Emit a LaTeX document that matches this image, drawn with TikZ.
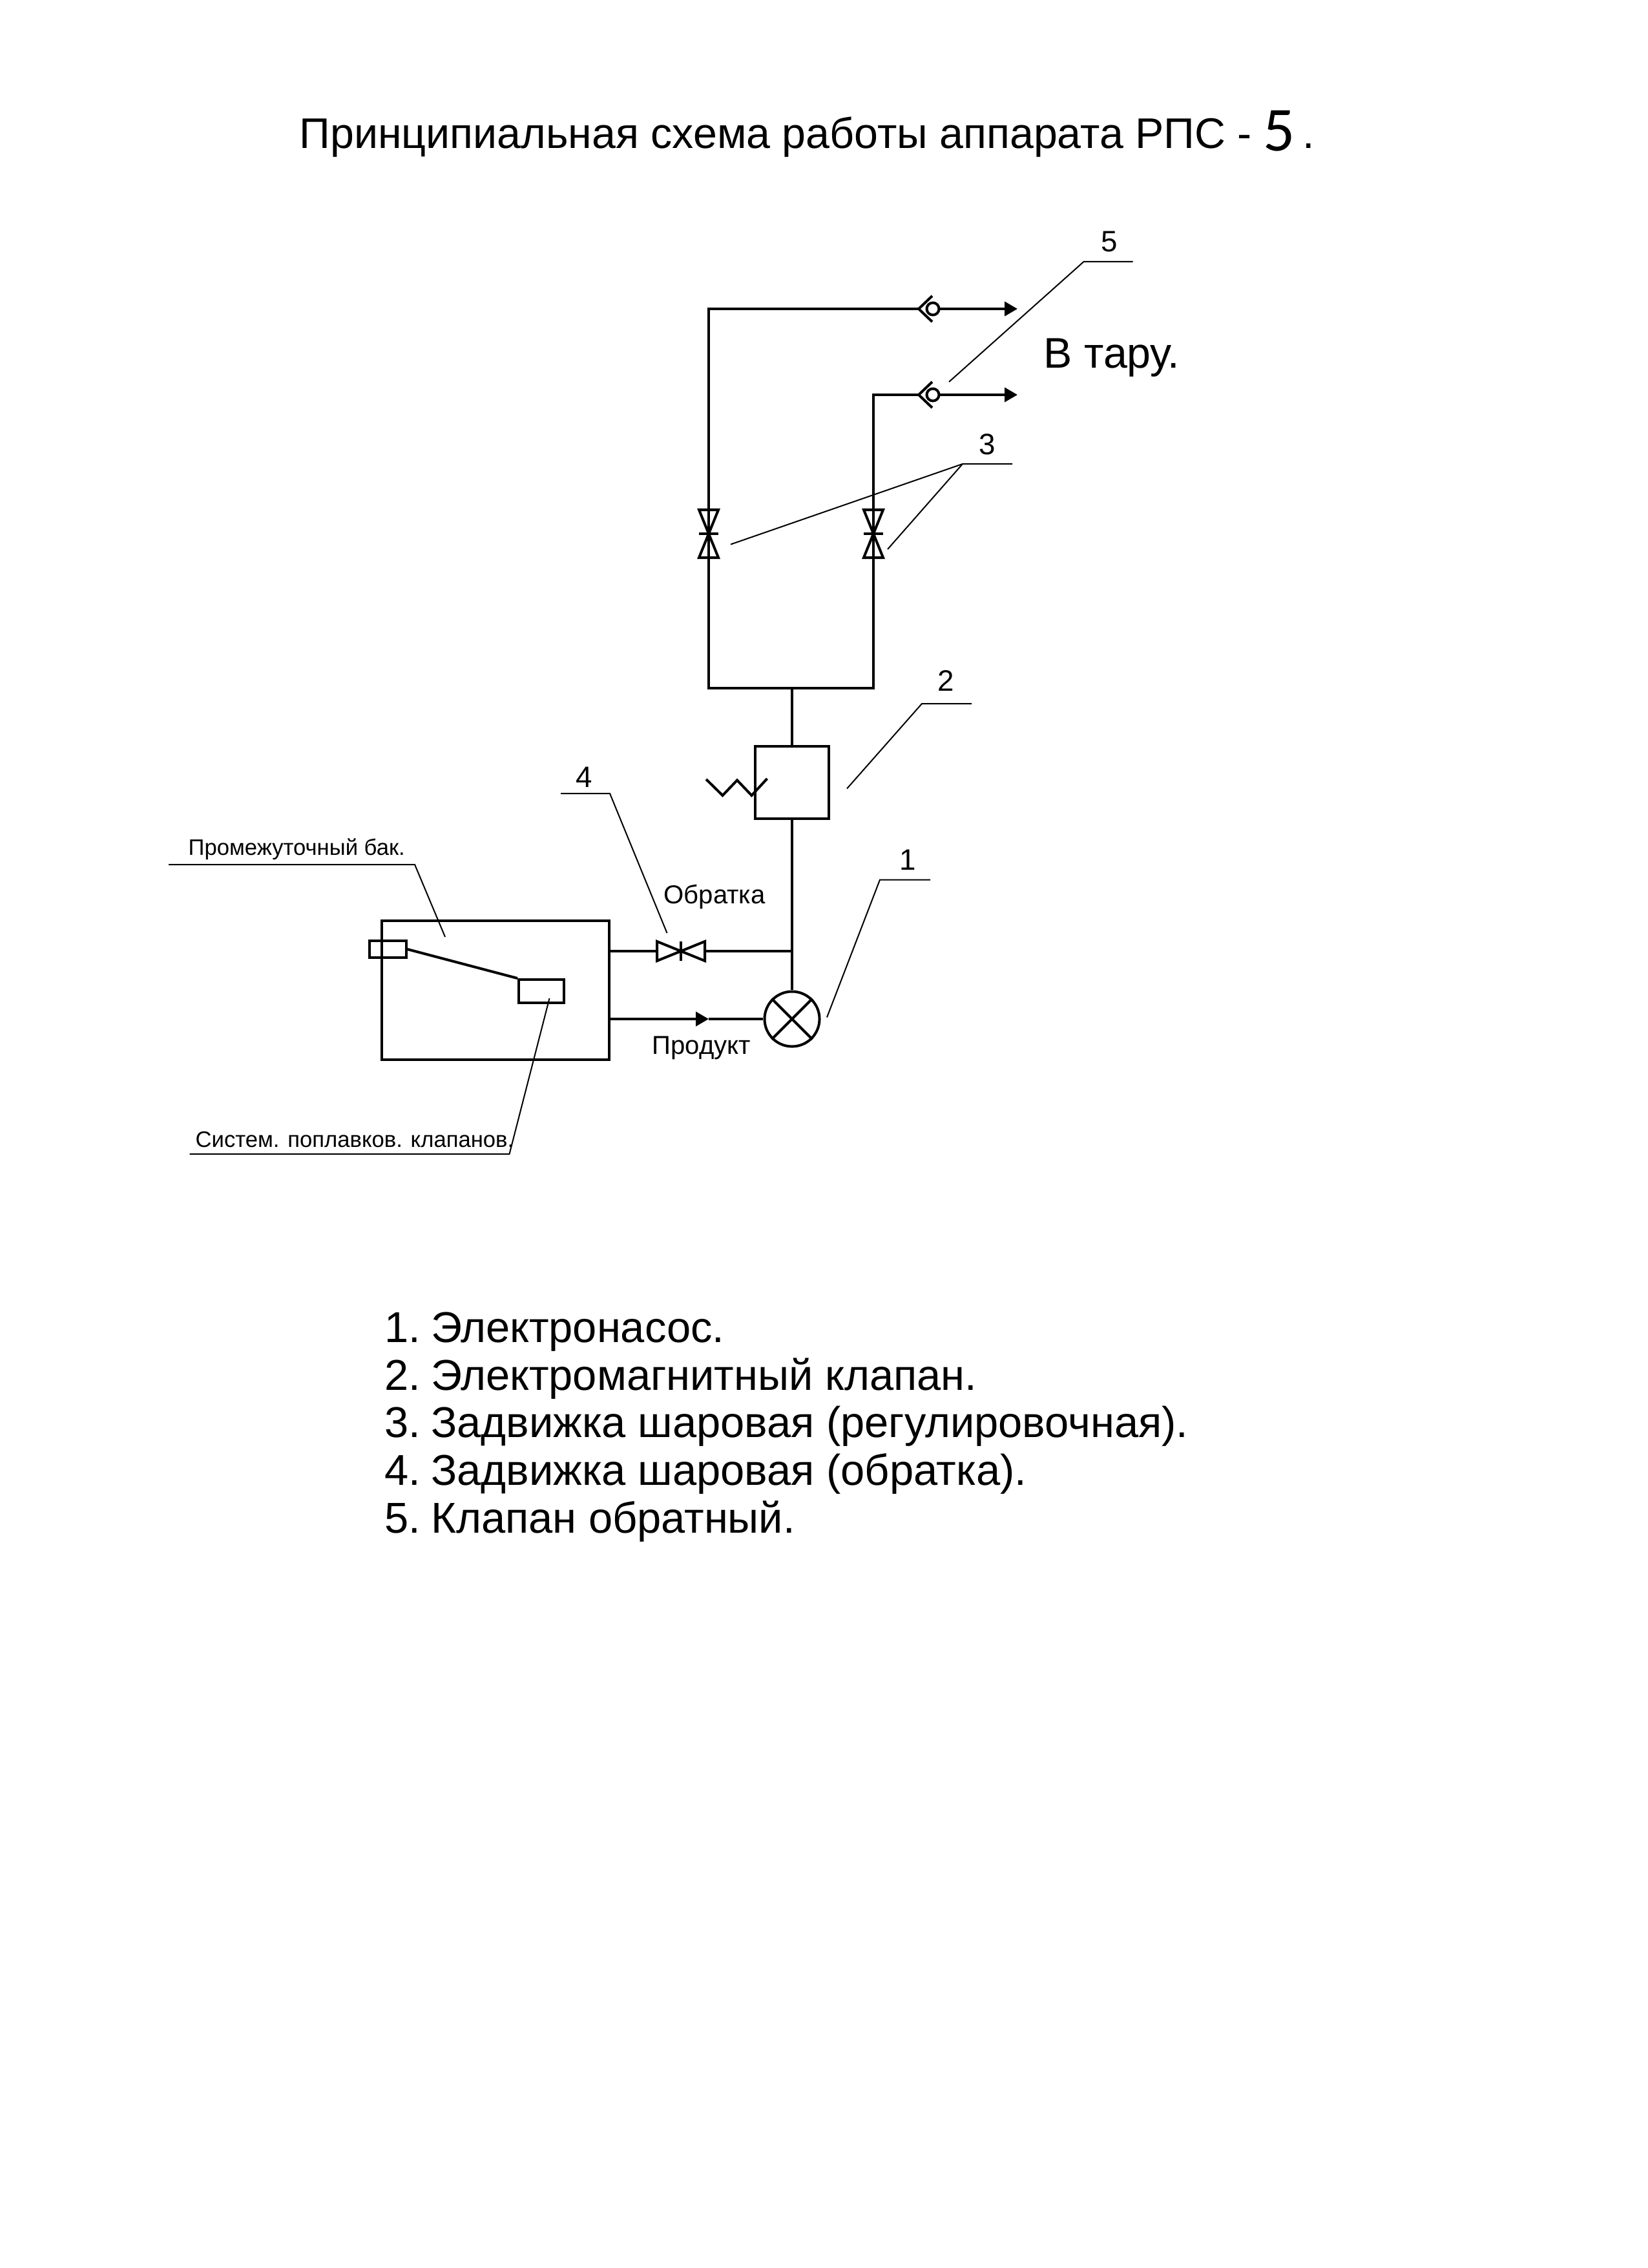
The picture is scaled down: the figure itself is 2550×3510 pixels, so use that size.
\documentclass[tikz,border=0pt]{standalone}
\usepackage{fontspec}
\setmainfont{Liberation Sans}
\newfontfamily\digitfont{Carlito}
\usetikzlibrary{arrows.meta}
\tikzset{
  pipe/.style={line width=0.04cm},
  leader/.style={line width=0.02cm},
  unit/.style={draw,line width=0.04cm,inner sep=0,fill=white},
  flowtip/.style={-{Triangle[length=0.2cm,width=0.22cm]}},
  big/.style={anchor=base west,inner sep=0,font=\fontsize{18.85pt}{20pt}\selectfont},
  listitem/.style={anchor=base west,inner sep=0,font=\fontsize{19pt}{20pt}\selectfont},
  num/.style={inner sep=0,font=\fontsize{13pt}{15pt}\selectfont},
  small/.style={anchor=base west,inner sep=0,font=\fontsize{11.4pt}{12pt}\selectfont},
  tiny/.style={anchor=base west,inner sep=0,font=\fontsize{9.85pt}{11pt}\selectfont},
  gate/.pic={
    \draw[pipe] (-37,-15)--(-37,15)--(37,-15)--(37,15)--cycle;
    \draw[pipe] (0,-15)--(0,15);
    \coordinate (-a) at (-37,0);
    \coordinate (-b) at (37,0);
  },
  check/.pic={
    \draw[pipe] (-1,-20)--(-22,0)--(-1,20);
    \draw[pipe] (0,0) circle (0.095cm);
    \coordinate (-a) at (-22,0);
    \coordinate (-b) at (9.5,0);
  },
}
\begin{document}
\begin{tikzpicture}[x=0.01cm,y=-0.01cm]
  \useasboundingbox (0,0) rectangle (2550,3510);
  \fill[white] (0,0) rectangle (2550,3510);
  % title and list
  \node[big] (title) at (463,230) {Принципиальная схема работы аппарата РПС - {\digitfont\fontsize{27.6pt}{30pt}\selectfont\raisebox{-0.04cm}{5}}\hspace{3.2pt}.};
  \node[listitem] (item1) at (595,2077) {1.\hspace{4.5pt}Электронасос.};
  \node[listitem] (item2) at (595,2151) {2.\hspace{4.5pt}Электромагнитный клапан.};
  \node[listitem] (item3) at (595,2224) {3.\hspace{4.5pt}Задвижка шаровая (регулировочная).};
  \node[listitem] (item4) at (595,2298) {4.\hspace{4.5pt}Задвижка шаровая (обратка).};
  \node[listitem] (item5) at (595,2372) {5.\hspace{4.5pt}Клапан обратный.};
  \node[big] (tara) at (1615,570) {В тару.};
  % units
  \node[unit,minimum width=3.52cm,minimum height=2.15cm] (tank) at (767,1532.5) {};
  \node[unit,fill=none,minimum width=0.56cm,minimum height=0.26cm] (seat) at (600.5,1469) {};
  \node[unit,minimum width=0.70cm,minimum height=0.36cm] (float) at (838,1534) {};
  \draw[pipe] (seat.east)--(float.north west);
  \node[unit,minimum width=1.13cm,minimum height=1.12cm] (coil) at (1226,1211) {};
  \node[unit,circle,minimum size=0.85cm] (pump) at (1226,1577) {};
  \draw[pipe] (pump.north west)--(pump.south east);
  \draw[pipe] (pump.north east)--(pump.south west);
  \draw[pipe] (1093,1206)--(1118.5,1231)--(1141,1207.5)--(1163.5,1231)--(1187.5,1205);
  % fittings
  \pic (gatea) at (1054,1472) {gate};
  \pic[rotate=90] (gateb) at (1097,826) {gate};
  \pic[rotate=90] (gatec) at (1352,826) {gate};
  \pic (checka) at (1444,478) {check};
  \pic (checkb) at (1444,611) {check};
  % pipes
  \coordinate (tee) at (1226,1472);
  \coordinate (join) at (1226,1065);
  \coordinate (tipa) at (1575,478);
  \coordinate (tipb) at (1575,611);
  \coordinate (tipc) at (1097,1577);
  \draw[pipe] (coil.south)--(tee)--(pump.north);
  \draw[pipe] (coil.north)--(join);
  \draw[pipe] (gateb-b)--(gateb-b |- join)--(gatec-b |- join)--(gatec-b);
  \draw[pipe] (gateb-a)--(gateb-a |- checka-a)--(checka-a);
  \draw[pipe] (gatec-a)--(gatec-a |- checkb-a)--(checkb-a);
  \draw[pipe,flowtip] (checka-b)--(tipa);
  \draw[pipe,flowtip] (checkb-b)--(tipb);
  \draw[pipe] (tee)--(gatea-b);
  \draw[pipe] (gatea-a)--(tank.east |- gatea-a);
  \draw[pipe,flowtip] (tank.east |- tipc)--(tipc);
  \draw[pipe] (tipc)--(pump.west);
  % leaders
  \node[num] (nfive) at (1717,374) {5};
  \coordinate (five) at (1677.5,405);
  \draw[leader] (1753.5,405)--(five)--(1469,591);
  \node[num] (nthree) at (1528,688) {3};
  \coordinate (three) at (1490,718);
  \draw[leader] (1567,718)--(three)--(1131,842.5);
  \draw[leader] (three)--(1374,850);
  \node[num] (ntwo) at (1464,1054) {2};
  \coordinate (two) at (1427,1089);
  \draw[leader] (1504,1089)--(two)--(1311,1220.5);
  \node[num] (none) at (1405.5,1331) {1};
  \coordinate (one) at (1362,1361.5);
  \draw[leader] (1440,1361.5)--(one)--(1280,1574.5);
  \node[num] (nfour) at (904,1203) {4};
  \coordinate (four) at (944,1228);
  \draw[leader] (868,1228)--(four)--(1032.5,1444);
  \node[small] (back) at (1027,1398) {Обратка};
  \node[small] (prod) at (1009,1631) {Продукт};
  \node[tiny] (bak) at (291,1323) {Промежуточный бак.};
  \coordinate (bakend) at (642,1338);
  \draw[leader] (261,1338)--(bakend)--(689,1450);
  \node[tiny] (sys) at (302,1775) {Систем. поплавков. клапанов.};
  \coordinate (sysend) at (788.5,1786);
  \draw[leader] (293.5,1786)--(sysend)--(850.5,1545);
\end{tikzpicture}
\end{document}
